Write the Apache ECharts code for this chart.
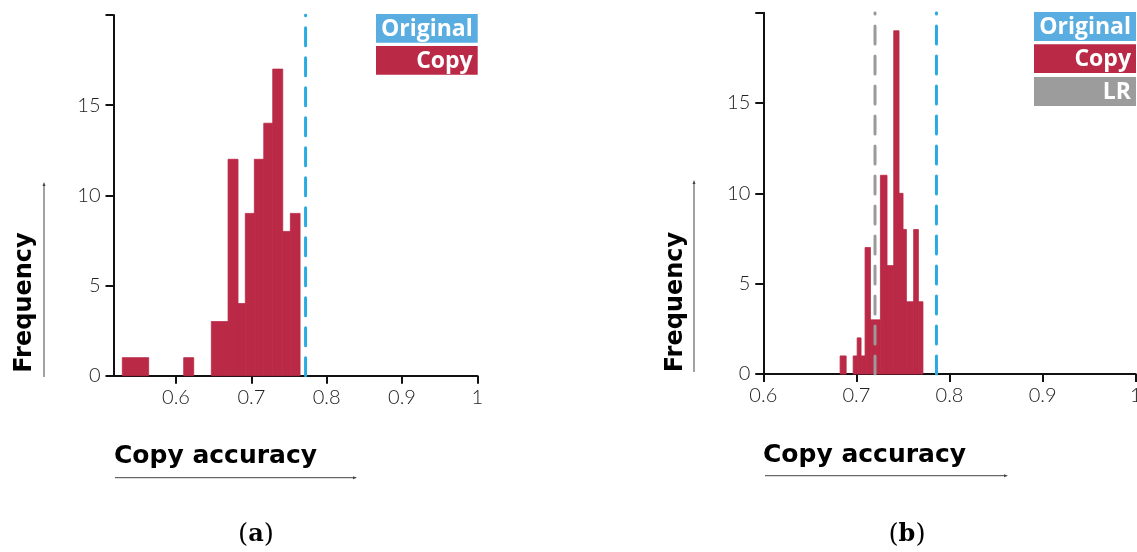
<!DOCTYPE html>
<html>
<head>
<meta charset="utf-8">
<script src="https://cdn.jsdelivr.net/npm/echarts@6/dist/echarts.min.js"></script>
<style>
  html, body { margin: 0; padding: 0; background: #ffffff; }
  #chart { width: 1137px; height: 552px; }
</style>
</head>
<body>
<div id="chart"></div>
<script>
// ---- Panel (a): copy-accuracy histogram (bin edges and counts) ----
const binLoA   = [0.5287, 0.6102, 0.6469, 0.6691, 0.6823, 0.6920, 0.7040, 0.7165, 0.7284, 0.7417, 0.7518];
const binHiA   = [0.5637, 0.6235, 0.6691, 0.6823, 0.6920, 0.7040, 0.7165, 0.7284, 0.7417, 0.7518, 0.7647];
const countsA  = [1, 1, 3, 12, 4, 9, 12, 14, 17, 8, 9];
const originalA = 0.772;

// ---- Panel (b): copy-accuracy histogram with logistic-regression reference ----
const binLoB   = [0.6825, 0.6965, 0.7008, 0.7050, 0.7093, 0.7151, 0.7258, 0.7329, 0.7401, 0.7458, 0.7501, 0.7537, 0.7615, 0.7666];
const binHiB   = [0.6890, 0.7008, 0.7050, 0.7093, 0.7151, 0.7258, 0.7329, 0.7401, 0.7458, 0.7501, 0.7537, 0.7615, 0.7666, 0.7715];
const countsB  = [1, 1, 2, 1, 7, 3, 11, 6, 19, 10, 8, 4, 8, 4];
const originalB = 0.786;
const lrB       = 0.72;

// ---- Axis ticks ----
const xTicks = [0.6, 0.7, 0.8, 0.9, 1];
const yMax = 20;
const yStep = 5;

const COPY = '#ba2946';
const ORIG_LINE = '#29abe2';
const ORIG_BOX = '#5aade0';
const LR_LINE = '#9a9a9a';
const LR_BOX = '#9c9c9c';
const AXIS = '#111111';
const TICK_FONT = 'Lato, "Open Sans", sans-serif';
const TITLE_FONT = '"DejaVu Sans", sans-serif';

function renderBin(params, api) {
  const top = api.coord([api.value(0), api.value(2)]);
  const bottom = api.coord([api.value(1), 0]);
  return {
    type: 'rect',
    shape: { x: top[0], y: top[1], width: bottom[0] - top[0], height: bottom[1] - top[1] },
    style: { fill: COPY, stroke: COPY, lineWidth: 0.8 }
  };
}

function xAxisCfg(gridIndex, min) {
  return {
    type: 'value', gridIndex, min, max: 1,
    axisLine: { show: true, onZero: false, lineStyle: { color: AXIS, width: 2 } },
    axisTick: { show: true, length: 8, customValues: xTicks, lineStyle: { color: AXIS, width: 2 } },
    axisLabel: { customValues: xTicks, margin: 12, fontFamily: TICK_FONT, fontWeight: 300,
                 fontSize: 20, color: '#222', formatter: v => String(v) },
    splitLine: { show: false }
  };
}

function yAxisCfg(gridIndex) {
  return {
    type: 'value', gridIndex, min: 0, max: yMax, interval: yStep,
    axisLine: { show: true, lineStyle: { color: AXIS, width: 2 } },
    axisTick: { show: true, length: 8, lineStyle: { color: AXIS, width: 2 } },
    axisLabel: { margin: 13, fontFamily: TICK_FONT, fontWeight: 300, fontSize: 20, color: '#222',
                 formatter: v => (v === yMax ? '' : String(v)) },
    splitLine: { show: false }
  };
}

function refLine(xi, value, color) {
  return {
    type: 'line', xAxisIndex: xi, yAxisIndex: xi, silent: true, symbol: 'none', z: 3,
    data: [[value, 0], [value, yMax]],
    lineStyle: { color, width: 3, type: [18, 12], cap: 'round' }
  };
}

function legendBox(x, y, w, h, fill, label) {
  return [
    { type: 'rect', shape: { x, y, width: w, height: h }, style: { fill } },
    { type: 'text', x: x + w - 5, y: y + h / 2 + 1,
      style: { text: label, fill: '#ffffff', font: 'bold 23px "Open Sans", sans-serif',
               align: 'right', verticalAlign: 'middle' } }
  ];
}

function axisTitles(fx, fy, arrowX, arrowTop, arrowBottom, cx, cy, ulX0, ulX1, ulY) {
  return [
    { type: 'text', x: fx, y: fy, rotation: Math.PI / 2,
      style: { text: 'Frequency', fill: '#000', font: 'bold 24px ' + TITLE_FONT,
               align: 'center', verticalAlign: 'middle' } },
    { type: 'line', shape: { x1: arrowX, y1: arrowBottom, x2: arrowX, y2: arrowTop + 3 },
      style: { stroke: '#444', lineWidth: 1 } },
    { type: 'polygon', shape: { points: [[arrowX, arrowTop], [arrowX - 1.5, arrowTop + 4], [arrowX + 1.5, arrowTop + 4]] },
      style: { fill: '#444' } },
    { type: 'text', x: cx, y: cy,
      style: { text: 'Copy accuracy', fill: '#000', font: 'bold 25px ' + TITLE_FONT,
               align: 'left', verticalAlign: 'middle' } },
    { type: 'line', shape: { x1: ulX0, y1: ulY, x2: ulX1 - 3, y2: ulY },
      style: { stroke: '#444', lineWidth: 1 } },
    { type: 'polygon', shape: { points: [[ulX1, ulY], [ulX1 - 4, ulY - 1.5], [ulX1 - 4, ulY + 1.5]] },
      style: { fill: '#444' } }
  ];
}

function caption(x, y, letter) {
  return {
    type: 'text', x, y,
    style: {
      text: '{n|(}{b|' + letter + '}{n|)}', align: 'center', verticalAlign: 'middle',
      rich: {
        n: { font: '26px "DejaVu Serif", "Liberation Serif", serif', fill: '#000' },
        b: { font: 'bold 24px "DejaVu Serif", "Liberation Serif", serif', fill: '#000' }
      }
    }
  };
}

const chart = echarts.init(document.getElementById('chart'), null, { renderer: 'canvas' });

chart.setOption({
  animation: false,
  backgroundColor: '#ffffff',
  grid: [
    { left: 113.5, top: 15, width: 363.8, height: 360.7, outerBoundsMode: 'none' },
    { left: 763.3, top: 12.7, width: 372.4, height: 361.3, outerBoundsMode: 'none' }
  ],
  xAxis: [xAxisCfg(0, 0.517), xAxisCfg(1, 0.6)],
  yAxis: [yAxisCfg(0), yAxisCfg(1)],
  series: [
    { type: 'custom', xAxisIndex: 0, yAxisIndex: 0, renderItem: renderBin, z: 2,
      encode: { x: [0, 1], y: 2 },
      data: binLoA.map((lo, i) => [lo, binHiA[i], countsA[i]]) },
    { type: 'custom', xAxisIndex: 1, yAxisIndex: 1, renderItem: renderBin, z: 2,
      encode: { x: [0, 1], y: 2 },
      data: binLoB.map((lo, i) => [lo, binHiB[i], countsB[i]]) },
    refLine(0, originalA, ORIG_LINE),
    refLine(1, lrB, LR_LINE),
    refLine(1, originalB, ORIG_LINE)
  ],
  graphic: [
    ...legendBox(376, 14, 101.7, 28.7, ORIG_BOX, 'Original'),
    ...legendBox(376, 46, 101.7, 28.7, COPY, 'Copy'),
    ...legendBox(1034, 12, 102, 29, ORIG_BOX, 'Original'),
    ...legendBox(1034, 44.3, 102, 28.7, COPY, 'Copy'),
    ...legendBox(1034, 77, 102, 29, LR_BOX, 'LR'),
    ...axisTitles(25, 302.5, 44, 182, 377, 114, 456, 115, 357, 477.7),
    ...axisTitles(675.5, 302, 694, 180, 372, 763, 455, 765, 1008, 475.7),
    caption(256, 535, 'a'),
    caption(907, 535, 'b')
  ]
});
</script>
</body>
</html>
